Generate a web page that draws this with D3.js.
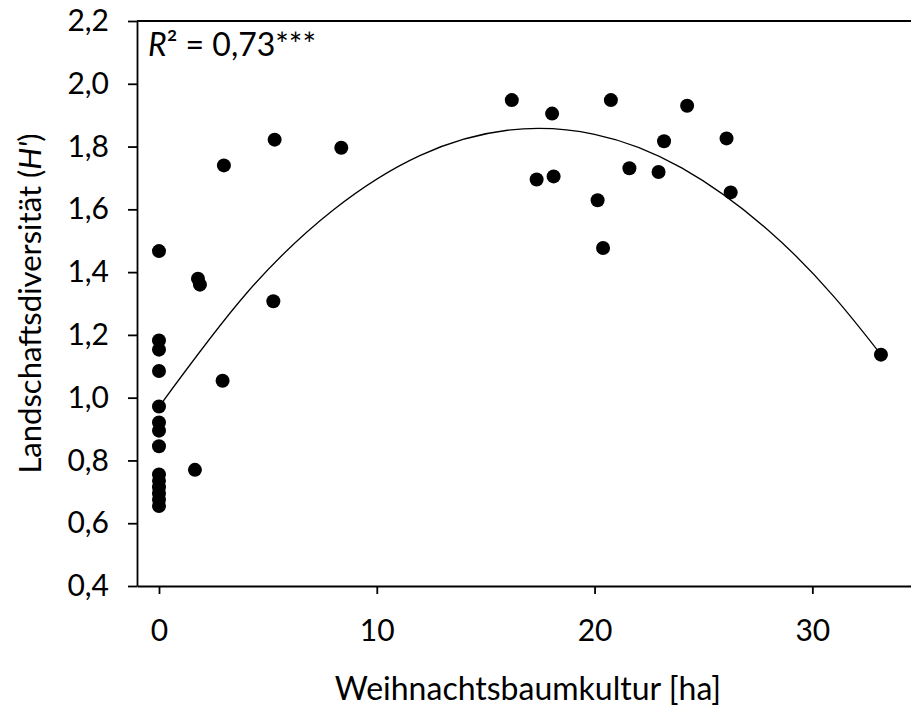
<!DOCTYPE html>
<html>
<head>
<meta charset="utf-8">
<script src="https://cdn.jsdelivr.net/npm/d3@7"></script>
<style>
  body { margin: 0; background: #fff; }
  svg { display: block; }
</style>
</head>
<body>
<script>
// area of christmas tree plantations [ha]
const areaHa = [0, 0, 0, 0, 0, 0, 0, 0, 0, 0, 0, 0, 0, 0,
  1.65, 1.79, 1.88, 2.92, 2.98, 5.25, 5.31, 8.37,
  16.2, 17.34, 18.05, 18.12, 20.14, 20.39, 20.75, 21.6,
  22.94, 23.19, 24.25, 26.06, 26.25, 33.15];
// landscape diversity H'
const diversity = [1.467, 1.182, 1.153, 1.085, 0.972, 0.921, 0.895, 0.845, 0.755, 0.735, 0.715, 0.695, 0.675, 0.655,
  0.77, 1.379, 1.36, 1.054, 1.74, 1.307, 1.822, 1.796,
  1.948, 1.695, 1.905, 1.705, 1.629, 1.477, 1.948, 1.731,
  1.719, 1.817, 1.93, 1.826, 1.654, 1.137];

// points
const fitX = [0, 4, 8, 12, 16, 20, 24, 28, 31, 33.15];
const fitY = [0.971, 1.331, 1.598, 1.772, 1.852, 1.839, 1.732, 1.532, 1.321, 1.137];

const xTicks = [0, 10, 20, 30];
const yTicks = [0.4, 0.6, 0.8, 1.0, 1.2, 1.4, 1.6, 1.8, 2.0, 2.2];

const points = areaHa.map((d, i) => ({x: d, y: diversity[i]}));
const fit = fitX.map((d, i) => ({x: d, y: fitY[i]}));

const width = 911;
const height = 711;
const margin = ({top: 21, right: 0, bottom: 125, left: 137});
const font = 'Lato, "DejaVu Sans", sans-serif';

const de = d3.formatLocale({decimal: ',', thousands: '.', grouping: [3], currency: ['', '€']});

const xScale = d3.scaleLinear()
  .domain([-1.01, 34.53])
  .range([margin.left, width - margin.right]);

const yScale = d3.scaleLinear()
  .domain([0.4, 2.2])
  .range([height - margin.bottom, margin.top]);

const svg = d3.select('body')
  .append('svg')
  .attr('width', width)
  .attr('height', height);

// top frame line
svg.append('line')
  .attr('x1', margin.left).attr('x2', width)
  .attr('y1', yScale(2.2)).attr('y2', yScale(2.2))
  .attr('stroke', '#000').attr('stroke-width', 1.8);

// Y Axis
const yAxis = d3.axisLeft(yScale)
  .tickValues(yTicks)
  .tickFormat(de.format('.1f'))
  .tickSize(9)
  .tickSizeOuter(0)
  .tickPadding(19);

svg.append('g')
  .attr('transform', `translate(${margin.left},0)`)
  .call(yAxis)
  .call(g => g.selectAll('path, line').attr('stroke', '#000').attr('stroke-width', 1.8))
  .call(g => g.selectAll('text').attr('font-family', font).attr('font-size', 30).attr('fill', '#000'));

// X Axis
const xAxis = d3.axisBottom(xScale)
  .tickValues(xTicks)
  .tickSize(8)
  .tickSizeOuter(0)
  .tickPadding(26);

svg.append('g')
  .attr('transform', `translate(0,${height - margin.bottom})`)
  .call(xAxis)
  .call(g => g.selectAll('path, line').attr('stroke', '#000').attr('stroke-width', 1.8))
  .call(g => g.selectAll('text').attr('font-family', font).attr('font-size', 30).attr('fill', '#000'));

// regression curve
const line = d3.line()
  .x(d => xScale(d.x))
  .y(d => yScale(d.y))
  .curve(d3.curveNatural);

svg.append('path')
  .datum(fit)
  .attr('d', line)
  .attr('fill', 'none')
  .attr('stroke', '#000')
  .attr('stroke-width', 1.3);

// data points
svg.append('g')
  .selectAll('circle')
  .data(points)
  .join('circle')
  .attr('cx', d => xScale(d.x))
  .attr('cy', d => yScale(d.y))
  .attr('r', 7)
  .attr('fill', '#000');

// R² label
const r2 = svg.append('text')
  .attr('x', 148)
  .attr('y', 56)
  .attr('font-family', font)
  .attr('font-size', 32)
  .attr('fill', '#000');
r2.append('tspan').attr('font-style', 'italic').text('R');
r2.append('tspan').text('² = 0,73***');

// axis titles
svg.append('text')
  .attr('x', 528)
  .attr('y', 700)
  .attr('text-anchor', 'middle')
  .attr('font-family', font)
  .attr('font-size', 32)
  .attr('fill', '#000')
  .text('Weihnachtsbaumkultur [ha]');

const yTitle = svg.append('text')
  .attr('transform', `translate(41,${(margin.top + height - margin.bottom) / 2}) rotate(-90)`)
  .attr('text-anchor', 'middle')
  .attr('font-family', font)
  .attr('font-size', 31)
  .attr('fill', '#000');
yTitle.append('tspan').text('Landschaftsdiversität (');
yTitle.append('tspan').attr('font-style', 'italic').text('H\'');
yTitle.append('tspan').text(')');
</script>
</body>
</html>
